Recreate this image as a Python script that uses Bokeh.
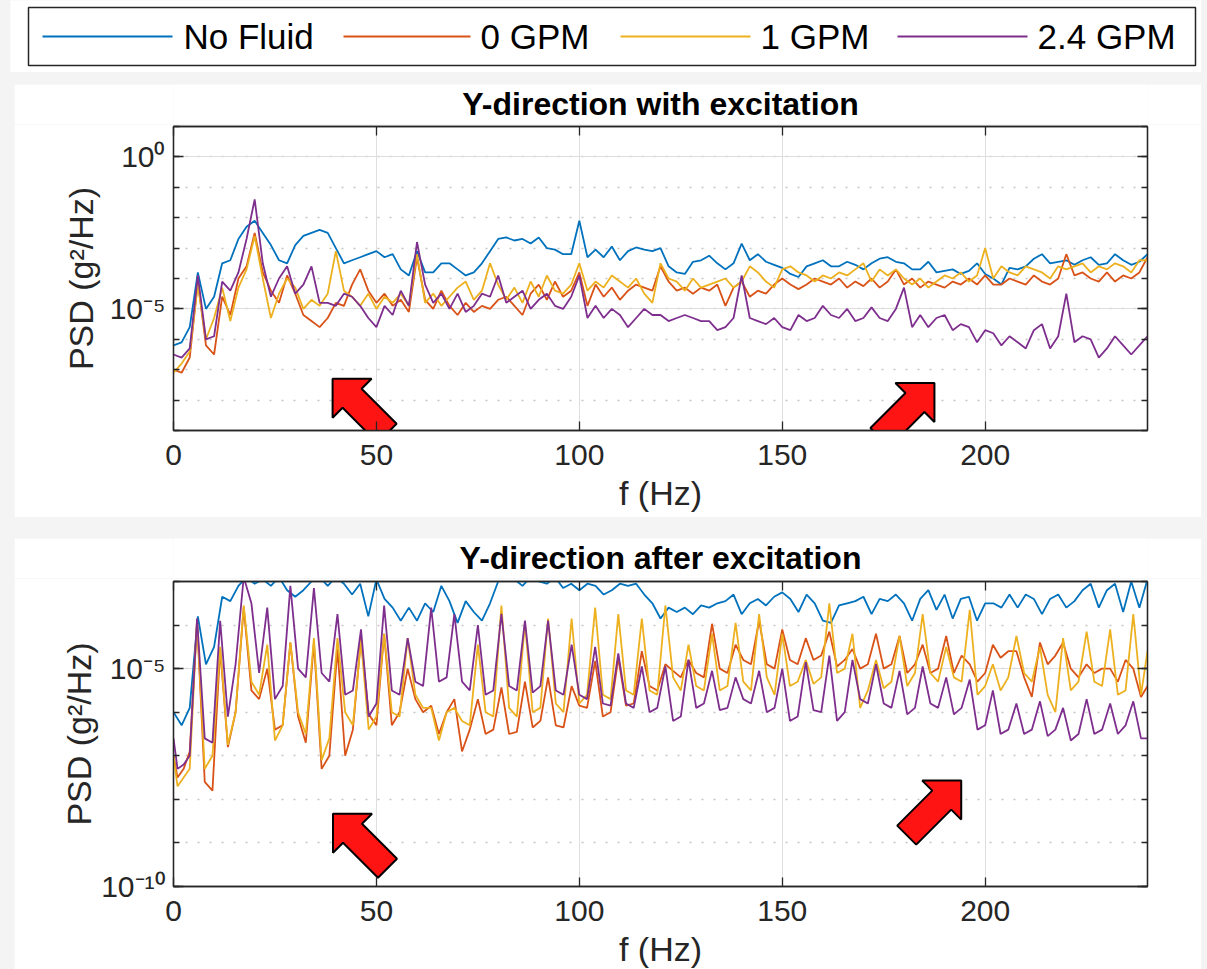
from bokeh.plotting import figure
from bokeh.models import (Range1d, FixedTicker, LinearAxis, LogAxis, CustomJSTickFormatter)
from bokeh.core.properties import value
from bokeh.layouts import column, row
from bokeh.embed import file_html
from bokeh.resources import INLINE

FONT = "Liberation Sans"
INK = "#262626"
SERIES = ["No Fluid", "0 GPM", "1 GPM", "2.4 GPM"]
COLORS = ["#0072BD", "#D95319", "#EDB120", "#7E2F8E"]
X_TICKS = [0, 50, 100, 150, 200]

# ---------------- top panel: with excitation (log10 PSD, every 2 Hz) ----------------
F_TOP = list(range(0, 241, 2))
TOP_NOFLUID = [
    -6.2, -6.1, -5.6, -3.8, -5.0, -4.6, -3.5, -3.4, -2.7, -2.3,
    -2.1, -2.5, -2.9, -3.4, -3.5, -2.9, -2.6, -2.5, -2.4, -2.5,
    -3.0, -3.5, -3.4, -3.3, -3.2, -3.1, -3.3, -3.2, -3.7, -3.9,
    -3.1, -3.8, -3.8, -3.5, -3.5, -3.7, -3.9, -3.8, -3.5, -3.1,
    -2.7, -2.65, -2.75, -2.7, -2.85, -2.65, -3.0, -3.05, -3.2, -3.2,
    -2.1, -3.3, -3.05, -3.3, -2.95, -3.4, -3.1, -2.98, -3.05, -3.1,
    -3.0, -3.6, -3.8, -3.85, -3.45, -3.4, -3.25, -3.5, -3.7, -3.5,
    -2.85, -3.4, -3.2, -3.45, -3.55, -3.65, -3.85, -3.95, -3.6, -3.5,
    -3.4, -3.6, -3.6, -3.45, -3.55, -3.7, -3.5, -3.35, -3.3, -3.45,
    -3.5, -3.7, -3.7, -3.45, -3.8, -3.75, -3.7, -3.85, -3.75, -3.5,
    -3.85, -4.0, -4.2, -3.65, -3.7, -3.6, -3.35, -3.2, -3.5, -3.45,
    -3.4, -3.55, -3.4, -3.3, -3.55, -3.5, -3.2, -3.4, -3.55, -3.45,
    -3.2]
TOP_0GPM = [
    -7.0, -7.1, -6.6, -4.1, -6.2, -6.5, -4.6, -5.2, -4.0, -3.6,
    -2.5, -3.8, -4.4, -4.8, -3.9, -4.5, -5.2, -5.4, -5.6, -5.3,
    -4.8, -4.9, -4.2, -3.7, -4.4, -4.8, -4.5, -4.9, -4.7, -5.1,
    -3.3, -4.7, -5.0, -4.4, -4.9, -5.2, -4.8, -5.1, -4.9, -5.0,
    -4.7, -4.6, -4.9, -5.2, -4.5, -4.2, -4.7, -4.1, -4.6, -4.4,
    -3.8, -4.9, -4.2, -4.6, -4.3, -4.7, -4.4, -4.2, -4.3, -4.4,
    -3.6, -4.1, -4.4, -4.3, -4.5, -4.3, -4.4, -4.2, -4.9, -4.3,
    -4.1, -4.6, -4.4, -4.5, -4.2, -4.0, -4.2, -4.35, -4.2, -4.0,
    -4.1, -4.2, -4.0, -4.3, -4.1, -4.25, -4.0, -4.3, -4.1, -3.7,
    -4.2, -4.0, -4.3, -4.1, -4.2, -4.3, -4.1, -4.2, -4.0, -4.2,
    -3.9, -4.2, -4.2, -4.0, -4.1, -4.2, -3.9, -4.1, -4.2, -4.0,
    -3.2, -3.9, -3.8, -4.0, -4.1, -3.8, -4.1, -3.9, -4.0, -3.8,
    -3.3]
TOP_1GPM = [
    -7.1, -6.8, -6.4, -4.2, -6.0, -5.3, -4.3, -5.4, -4.3, -3.7,
    -2.6, -4.0, -5.3, -4.5, -4.0, -4.3, -5.0, -4.7, -4.9, -4.5,
    -3.1, -4.4, -4.6, -4.9, -4.5, -5.0, -4.6, -4.8, -4.5, -4.9,
    -3.2, -4.8, -4.5, -4.9, -4.6, -4.3, -4.1, -4.7, -4.4, -3.5,
    -4.2, -4.7, -4.3, -4.8, -4.1, -4.6, -3.9, -4.4, -4.5, -4.2,
    -3.5, -4.4, -4.1, -4.3, -3.9, -4.1, -4.3, -4.0, -4.5, -4.8,
    -3.5, -4.0, -4.1, -4.4, -4.0, -4.3, -4.2, -4.1, -4.0, -4.3,
    -4.1, -3.6, -3.8, -4.1, -4.3, -3.7, -3.6, -3.8, -3.9, -4.1,
    -3.9, -4.0, -3.8, -3.9, -3.7, -3.5, -4.1, -3.7, -3.9, -3.7,
    -4.0, -4.2, -4.0, -4.3, -4.1, -3.9, -4.0, -3.8, -4.1, -3.9,
    -3.0, -4.0, -3.6, -3.8, -3.9, -3.6, -3.7, -3.8, -4.0, -3.6,
    -3.7, -3.6, -3.5, -3.8, -3.6, -3.7, -3.5, -3.6, -3.8, -3.4,
    -3.4]
TOP_24GPM = [
    -6.5, -6.6, -6.3, -3.9, -6.0, -5.9, -4.1, -4.4, -3.8, -2.7,
    -1.4, -3.5, -4.6, -4.0, -3.6, -4.5, -4.2, -3.6, -4.8, -4.8,
    -4.9, -4.5, -4.6, -4.9, -5.3, -5.6, -4.9, -5.2, -4.4, -4.9,
    -2.8, -4.2, -4.8, -4.5, -5.0, -4.5, -5.1, -4.9, -4.5, -4.6,
    -3.9, -4.8, -4.6, -4.4, -5.0, -4.7, -4.5, -4.9, -5.0, -4.6,
    -3.9, -5.3, -4.9, -5.3, -5.0, -5.2, -5.6, -5.3, -5.0, -5.2,
    -5.2, -5.4, -5.3, -5.2, -5.3, -5.4, -5.4, -5.7, -5.6, -5.3,
    -3.9, -5.3, -5.4, -5.5, -5.3, -5.6, -5.7, -5.2, -5.4, -5.3,
    -4.9, -5.2, -5.3, -5.0, -5.4, -5.3, -4.95, -5.3, -5.4, -5.0,
    -4.3, -5.6, -5.2, -5.6, -5.3, -5.2, -5.7, -5.5, -5.6, -6.1,
    -5.7, -5.8, -6.2, -5.9, -6.1, -6.3, -5.7, -5.5, -6.3, -5.9,
    -4.5, -6.1, -5.9, -6.0, -6.6, -6.3, -5.9, -6.2, -6.5, -6.2,
    -5.9]

# ---------------- bottom panel: after excitation ----------------
BOT_NOFLUID = [
    -6.0, -6.3, -5.9, -3.8, -4.9, -4.5, -3.35, -3.45, -3.1, -2.9,
    -3.05, -2.95, -3.1, -2.9, -3.2, -3.35, -3.2, -3.0, -2.9, -3.1,
    -2.9, -3.05, -3.3, -3.05, -3.8, -2.95, -3.4, -3.6, -3.9, -3.6,
    -3.9, -3.5, -3.7, -3.1, -3.45, -3.95, -3.45, -3.7, -3.9, -3.5,
    -3.0, -2.9, -2.95, -3.1, -2.9, -3.0, -3.05, -2.9, -3.15, -3.05,
    -3.2, -3.05, -3.1, -3.3, -3.2, -3.05, -3.1, -3.05, -3.3, -3.5,
    -3.85, -3.6, -3.7, -3.6, -3.75, -3.55, -3.6, -3.5, -3.45, -3.3,
    -3.75, -3.5, -3.4, -3.55, -3.35, -3.25, -3.4, -3.7, -3.3, -3.5,
    -3.9, -3.95, -3.55, -3.5, -3.45, -3.35, -3.75, -3.4, -3.45, -3.3,
    -3.5, -3.9, -3.4, -3.2, -3.65, -3.3, -3.85, -3.4, -3.35, -3.9,
    -3.5, -3.5, -3.6, -3.3, -3.6, -3.3, -3.4, -3.75, -3.4, -3.3,
    -3.6, -3.45, -3.2, -3.05, -3.6, -3.2, -3.05, -3.7, -3.0, -3.6,
    -2.95]
# peak / trough vertices of the fluid-filled spectra (harmonics of ~5.8 Hz)
F_BOT = [
    0, 1, 2.5, 4,
    5.8, 7.7, 9.6, 11.5, 13.4, 15.3, 17.3, 19.2, 21.1, 23.1, 25.0, 26.9, 28.8, 30.7, 32.6, 34.6, 36.5, 38.4,
    40.4, 42.3, 44.2, 46.2, 48.1, 50.0, 51.9, 53.8, 55.7, 57.7, 59.6, 61.5, 63.5, 65.4, 67.3, 69.2, 71.1, 73.0,
    75.0, 76.9, 78.8, 80.8, 82.7, 84.6, 86.6, 88.5, 90.4, 92.3, 94.2, 96.1, 98.1, 100.0, 101.9, 103.9, 105.8, 107.7,
    109.6, 111.5, 113.4, 115.4, 117.3, 119.2, 121.2, 123.1, 125.0, 126.9, 128.8, 130.7, 132.7, 134.6, 136.5, 138.5, 140.4, 142.3,
    144.3, 146.2, 148.1, 150.0, 151.9, 153.8, 155.8, 157.7, 159.6, 161.6, 163.5, 165.4, 167.3, 169.2, 171.1, 173.1, 175.0, 176.9,
    178.9, 180.8, 182.7, 184.6, 186.5, 188.4, 190.4, 192.3, 194.2, 196.2, 198.1, 200.0, 201.9, 203.8, 205.7, 207.7, 209.6, 211.5,
    213.5, 215.4, 217.3, 219.2, 221.1, 223.0, 225.0, 226.9, 228.8, 230.8, 232.7, 234.6, 236.5, 238.4, 240.0]
BOT_0GPM = [
    -7.0, -7.5, -7.3, -6.9,
    -3.9, -7.6, -7.8, -4.55, -6.8, -6.0, -3.6, -5.5, -5.7, -5.0, -6.4, -6.3, -4.4, -6.1, -6.7, -4.4, -7.3, -7.0,
    -4.55, -7.0, -6.4, -4.3, -6.05, -6.3, -4.2, -6.3, -6.0, -5.0, -5.7, -6.0, -5.85, -6.5, -6.0, -5.7, -6.9, -6.4,
    -5.7, -6.5, -6.4, -5.43, -6.5, -6.45, -5.3, -6.35, -6.2, -5.2, -6.3, -6.35, -5.4, -5.85, -5.9, -4.82, -6.1, -6.0,
    -4.75, -5.85, -5.8, -4.6, -5.4, -5.5, -4.9, -5.05, -5.2, -4.8, -5.1, -5.2, -3.97, -5.0, -5.1, -4.45, -4.8, -4.9,
    -3.9, -4.9, -5.0, -4.1, -4.8, -4.9, -4.3, -4.8, -4.7, -4.15, -4.95, -4.8, -4.55, -5.0, -4.9, -4.2, -5.0, -4.9,
    -4.25, -5.1, -4.9, -4.45, -5.1, -5.0, -4.25, -5.1, -4.7, -4.9, -5.3, -5.1, -4.45, -4.75, -4.6, -4.6, -5.2, -5.65,
    -4.4, -4.9, -4.7, -4.4, -5.0, -5.2, -4.9, -5.1, -5.0, -5.0, -5.3, -4.8, -5.0, -5.65, -5.4]
BOT_1GPM = [
    -7.0, -7.7, -7.5, -7.3,
    -3.9, -7.3, -7.0, -4.5, -6.75, -6.0, -3.55, -5.3, -5.6, -4.45, -6.65, -6.3, -4.4, -6.0, -6.5, -4.3, -7.1, -6.6,
    -4.3, -6.0, -6.3, -4.35, -6.4, -6.1, -4.2, -6.0, -6.1, -4.3, -5.6, -5.9, -5.9, -6.65, -6.0, -5.9, -6.2, -6.3,
    -4.45, -6.0, -6.1, -3.55, -5.9, -6.1, -3.95, -6.0, -5.9, -3.85, -5.8, -6.0, -3.85, -5.8, -5.6, -3.6, -5.6, -5.7,
    -3.75, -5.5, -5.6, -3.85, -5.5, -5.6, -3.55, -5.2, -5.5, -4.45, -5.4, -5.5, -4.2, -5.5, -5.4, -3.95, -5.3, -5.5,
    -3.75, -5.2, -5.6, -4.2, -5.4, -5.3, -4.8, -5.35, -5.2, -3.5, -5.1, -5.0, -4.2, -5.9, -5.5, -4.8, -5.45, -5.3,
    -4.25, -5.4, -5.1, -3.75, -5.1, -5.3, -4.5, -5.2, -5.3, -3.65, -5.6, -5.4, -4.9, -5.5, -5.2, -4.25, -5.1, -5.3,
    -4.5, -5.6, -6.0, -4.3, -5.5, -5.3, -4.15, -5.3, -5.4, -4.1, -5.6, -5.5, -3.75, -5.6, -4.6]
BOT_24GPM = [
    -6.6, -7.3, -7.2, -7.0,
    -3.85, -6.6, -6.7, -3.9, -6.1, -4.9, -2.9, -3.5, -5.1, -3.6, -5.7, -5.4, -3.1, -5.0, -5.2, -3.15, -5.1, -5.3,
    -3.75, -5.6, -5.5, -4.1, -6.1, -5.8, -3.55, -5.5, -5.6, -4.3, -5.3, -5.4, -3.6, -5.3, -5.2, -3.75, -5.3, -5.5,
    -4.0, -5.6, -5.5, -3.74, -5.4, -5.5, -3.9, -5.55, -5.4, -3.9, -5.5, -5.6, -4.45, -5.6, -5.7, -4.5, -5.8, -5.85,
    -4.65, -5.8, -5.9, -4.95, -6.0, -5.9, -4.95, -6.2, -6.1, -4.8, -5.9, -5.8, -5.05, -5.95, -5.9, -5.2, -5.7, -5.8,
    -5.05, -6.0, -5.9, -5.0, -6.2, -6.1, -4.85, -5.95, -6.0, -4.7, -6.2, -6.0, -4.8, -5.7, -5.8, -4.9, -5.8, -5.9,
    -5.05, -6.05, -5.9, -4.95, -5.8, -5.9, -5.2, -6.05, -5.9, -5.25, -6.4, -6.3, -5.5, -6.5, -6.4, -5.8, -6.5, -6.4,
    -5.75, -6.55, -6.4, -5.9, -6.65, -6.5, -5.7, -6.5, -6.4, -5.8, -6.5, -6.3, -5.75, -6.6, -6.6]

TITLES = ["Y-direction with excitation", "Y-direction after excitation"]

# red arrows: tip (Hz, log10 PSD) and pointing direction
ARROWS_TOP = [(39.2, -7.30, "up-left"), (187.5, -7.44, "up-right")]
ARROWS_BOT = [(39.3, -8.33, "up-left"), (194.1, -7.57, "up-right")]
ARROW_SHAPE = [(0, 0), (39, 0), (29, 10), (64, 45), (45, 64), (10, 29), (0, 39)]  # px offsets

FRAME_W = 974
BORDER_L, BORDER_R = 159, 54
TITLE_H = 40
TITLE_Y = 19

sup_fmt = CustomJSTickFormatter(code="""
const sup = {'-':'\u207b','0':'\u2070','1':'\u00b9','2':'\u00b2','3':'\u00b3','4':'\u2074',
             '5':'\u2075','6':'\u2076','7':'\u2077','8':'\u2078','9':'\u2079'};
const e = Math.round(Math.log10(tick));
return '10' + String(e).split('').map(c => sup[c]).join('');
""")


def style_axis(ax, tick_len):
    ax.axis_line_color = INK
    ax.axis_line_width = 1.3
    ax.major_tick_line_color = INK
    ax.major_tick_line_width = 1.3
    ax.minor_tick_line_color = INK
    ax.minor_tick_line_width = 1.3
    ax.major_tick_in = tick_len
    ax.major_tick_out = 0
    ax.minor_tick_in = 6
    ax.minor_tick_out = 0
    ax.major_label_text_font = FONT
    ax.major_label_text_font_size = "30px"
    ax.major_label_text_color = INK
    ax.axis_label_text_font = FONT
    ax.axis_label_text_font_size = "34px"
    ax.axis_label_text_font_style = "normal"
    ax.axis_label_text_color = INK


def hide_labels(ax):
    ax.major_label_text_font_size = "1px"
    ax.major_label_text_color = None
    ax.major_label_standoff = 0


def title_strip(text, margin_top):
    t = figure(frame_width=FRAME_W, frame_height=TITLE_H, x_range=Range1d(0, 1),
               y_range=Range1d(TITLE_H, 0), output_backend="svg", toolbar_location=None,
               min_border_left=BORDER_L, min_border_right=BORDER_R, min_border_top=0,
               min_border_bottom=0, x_axis_location=None, y_axis_location=None,
               margin=(margin_top, 6, 0, 14))
    t.outline_line_color = None
    t.grid.visible = False
    t.background_fill_color = "white"
    t.border_fill_color = "white"
    t.text(x=[0.5], y=[TITLE_Y], text=[text], text_font=value(FONT), text_font_size=value("32px"),
           text_font_style="bold", text_align="center", text_baseline="middle",
           text_color="black")
    return t


def panel(series, e_lo, e_hi, majors, frame_h, top_b, bot_b, arrows, ylab_standoff):
    p = figure(frame_width=FRAME_W, frame_height=frame_h,
               x_range=Range1d(0, 240), y_range=Range1d(10 ** e_lo, 10 ** e_hi),
               y_axis_type="log", output_backend="svg", toolbar_location=None,
               min_border_left=BORDER_L, min_border_right=BORDER_R, min_border_top=top_b,
               min_border_bottom=bot_b, margin=(0, 6, 0, 14))
    p.background_fill_color = "white"
    p.border_fill_color = "white"
    p.outline_line_color = INK
    p.outline_line_width = 1.3

    xt = FixedTicker(ticks=X_TICKS, minor_ticks=[])
    decades = [10.0 ** k for k in range(e_lo, e_hi + 1)]
    yt = FixedTicker(ticks=[10.0 ** m for m in majors], minor_ticks=decades)

    xa = p.xaxis[0]
    xa.ticker = xt
    style_axis(xa, 9)
    xa.axis_label = "f (Hz)"
    xa.major_label_standoff = 14
    xa.axis_label_standoff = 6

    ya = p.yaxis[0]
    ya.ticker = yt
    ya.formatter = sup_fmt
    style_axis(ya, 10)
    ya.axis_label = "PSD (g\u00b2/Hz)"
    ya.major_label_standoff = 8
    ya.axis_label_standoff = ylab_standoff

    top_ax = LinearAxis(ticker=xt)
    style_axis(top_ax, 9)
    hide_labels(top_ax)
    p.add_layout(top_ax, "above")

    right_ax = LogAxis(ticker=yt)
    style_axis(right_ax, 10)
    hide_labels(right_ax)
    p.add_layout(right_ax, "right")

    p.xgrid[0].ticker = xt
    p.ygrid[0].ticker = yt
    p.xgrid.grid_line_color = "#dedede"
    p.xgrid.grid_line_width = 1
    p.ygrid.grid_line_color = "#dedede"
    p.ygrid.grid_line_width = 1
    p.ygrid.minor_grid_line_color = "#c4c4c4"
    p.ygrid.minor_grid_line_width = 1.3
    p.ygrid.minor_grid_line_dash = "2 10"

    for (fx, ev), color in zip(series, COLORS):
        p.line(fx, [10 ** v for v in ev], line_color=color, line_width=1.8)

    ppx = FRAME_W / 240.0
    ppd = frame_h / float(e_hi - e_lo)
    for ft, et, direction in arrows:
        sgn = -1 if direction == "up-right" else 1
        xs = [ft + sgn * dx / ppx for dx, dy in ARROW_SHAPE]
        ys = [10 ** (et - dy / ppd) for dx, dy in ARROW_SHAPE]
        p.patch(xs, ys, fill_color="#ff1414", fill_alpha=1.0, line_color="black", line_width=2)
    return p


top_title = title_strip(TITLES[0], 12)
top = panel([(F_TOP, TOP_NOFLUID), (F_TOP, TOP_0GPM), (F_TOP, TOP_1GPM), (F_TOP, TOP_24GPM)],
            -9, 1, [-5, 0], 304, 2, 87, ARROWS_TOP, 7)
bottom_title = title_strip(TITLES[1], 21)
bottom = panel([(F_TOP, BOT_NOFLUID), (F_BOT, BOT_0GPM), (F_BOT, BOT_1GPM), (F_BOT, BOT_24GPM)],
               -10, -3, [-10, -5], 305, 3, 82, ARROWS_BOT, 0)

# legend strip (drawn in its own pixel-unit frame)
LG_W, LG_H = 1191, 72
LG_BOX = (18, 1185, 7, 65)               # left, right, top, bottom
LG_LINE_X = [(32, 162), (333, 460), (610, 740), (887, 1017)]
LG_TEXT_X = [173, 470, 750, 1027]
LG_MID_Y = 36

lg = figure(width=LG_W, height=LG_H, x_range=Range1d(0, LG_W), y_range=Range1d(LG_H, 0),
            output_backend="svg", toolbar_location=None, min_border=0,
            x_axis_location=None, y_axis_location=None)
lg.outline_line_color = None
lg.grid.visible = False
lg.background_fill_color = "white"
lg.border_fill_color = "white"
lg.quad(left=[LG_BOX[0]], right=[LG_BOX[1]], top=[LG_BOX[2]], bottom=[LG_BOX[3]],
        fill_color="white", line_color=INK, line_width=1.5)
for (x0, x1), c in zip(LG_LINE_X, COLORS):
    lg.line([x0, x1], [LG_MID_Y, LG_MID_Y], line_color=c, line_width=2)
lg.text(x=LG_TEXT_X, y=[LG_MID_Y] * 4, text=SERIES, text_font=value(FONT),
        text_font_size=value("35px"), text_baseline="middle", text_align="left",
        text_color="black")

legend_row = row(lg, margin=(0, 6, 0, 10))
page = column(legend_row, top_title, top, bottom_title, bottom, spacing=0,
              styles={"background-color": "#f4f4f4"})

open("out.html", "w").write(file_html(page, INLINE))
